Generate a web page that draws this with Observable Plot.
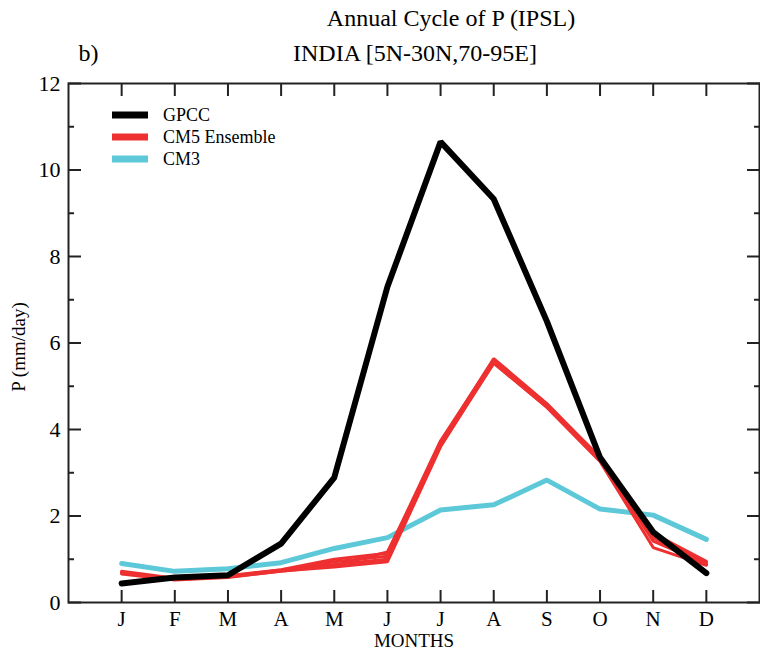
<!DOCTYPE html>
<html>
<head>
<meta charset="utf-8">
<script src="https://cdn.jsdelivr.net/npm/d3@7"></script>
<script src="https://cdn.jsdelivr.net/npm/@observablehq/plot@0.6"></script>
<style>
  html, body { margin: 0; padding: 0; background: #fff; }
</style>
</head>
<body>
<div id="chart"></div>
<script>
// ---- data ----
const monthLabels = ["J","F","M","A","M","J","J","A","S","O","N","D"];
const monthIndex = [1,2,3,4,5,6,7,8,9,10,11,12];
const yMajorTicks = [0,2,4,6,8,10,12];
const yMinorTicks = [1,3,5,7,9,11];

const gpcc = [0.44,0.58,0.63,1.36,2.89,7.30,10.65,9.33,6.50,3.35,1.63,0.68];
const cm3  = [0.90,0.72,0.78,0.92,1.25,1.50,2.14,2.26,2.83,2.16,2.02,1.46];

// CM5 ensemble members
const cm5_m1 = [0.66,0.52,0.58,0.73,0.82,0.94,3.60,5.55,4.51,3.26,1.27,0.86];
const cm5_m2 = [0.68,0.54,0.60,0.74,0.88,1.00,3.66,5.60,4.56,3.30,1.42,0.89];
const cm5_m3 = [0.70,0.55,0.61,0.75,0.94,1.07,3.71,5.64,4.60,3.34,1.55,0.93];
const cm5_m4 = [0.72,0.56,0.62,0.76,1.00,1.14,3.74,5.61,4.58,3.36,1.60,0.95];
const cm5_m5 = [0.69,0.53,0.59,0.72,0.85,1.17,3.63,5.53,4.52,3.28,1.50,0.88];
const cm5Members = [cm5_m1, cm5_m2, cm5_m3, cm5_m4, cm5_m5];

const seriesNames = ["GPCC","CM5 Ensemble","CM3"];
const seriesColors = ["#000000","#ee3030","#5cc8d8"];

// ---- tables ----
const toRows = (vals, series, member) => vals.map((v, i) => ({month: monthIndex[i], value: v, series, member}));
const gpccRows = toRows(gpcc, "GPCC", 0);
const cm3Rows = toRows(cm3, "CM3", 0);
const cm5Rows = cm5Members.flatMap((m, k) => toRows(m, "CM5 Ensemble", k));

const FONT = "Liberation Serif, Times New Roman, serif";

const chart = Plot.plot({
  width: 760,
  height: 653,
  marginLeft: 68,
  marginRight: 1,
  marginTop: 83,
  marginBottom: 51,
  style: {fontFamily: FONT, background: "#fff", color: "#000"},
  x: {domain: [0, 13]},
  y: {domain: [0, 12]},
  marks: [
    // lines
    Plot.line(cm3Rows, {x: "month", y: "value", stroke: seriesColors[2], strokeWidth: 5, strokeLinejoin: "miter"}),
    Plot.line(cm5Rows, {x: "month", y: "value", z: "member", stroke: seriesColors[1], strokeWidth: 3, strokeLinejoin: "miter"}),
    Plot.line(gpccRows, {x: "month", y: "value", stroke: seriesColors[0], strokeWidth: 6, strokeLinejoin: "miter"}),
    // frame
    Plot.frame({stroke: "#222", strokeWidth: 2}),
    // y axes (inward ticks)
    Plot.axisY(yMajorTicks, {anchor: "left", tickSize: -13, tickPadding: 21, fontSize: 22, label: null, stroke: "#222", strokeWidth: 2}),
    Plot.axisY(yMinorTicks, {anchor: "left", tickSize: -6, tickFormat: () => "", label: null, stroke: "#222", strokeWidth: 2}),
    Plot.axisY(yMajorTicks, {anchor: "right", tickSize: -13, tickFormat: () => "", label: null, stroke: "#222", strokeWidth: 2}),
    Plot.axisY(yMinorTicks, {anchor: "right", tickSize: -6, tickFormat: () => "", label: null, stroke: "#222", strokeWidth: 2}),
    // x axes
    Plot.axisX(monthIndex, {anchor: "bottom", tickSize: -12, tickPadding: 21, fontSize: 21, tickFormat: d => monthLabels[d - 1], label: null, stroke: "#222", strokeWidth: 2}),
    Plot.axisX(monthIndex, {anchor: "top", tickSize: -12, tickFormat: () => "", label: null, stroke: "#222", strokeWidth: 2}),
    // axis titles
    Plot.text(["MONTHS"], {frameAnchor: "bottom", lineAnchor: "middle", dy: 38, fontSize: 19, fill: "#000"}),
    Plot.text(["P (mm/day)"], {frameAnchor: "left", textAnchor: "middle", lineAnchor: "middle", dx: -50, dy: 4, rotate: -90, fontSize: 19, fill: "#000"}),
    // titles
    Plot.text(["Annual Cycle of P (IPSL)"], {frameAnchor: "top", lineAnchor: "middle", dx: 37, dy: -65, fontSize: 24, fill: "#000"}),
    Plot.text(["INDIA [5N-30N,70-95E]"], {frameAnchor: "top", lineAnchor: "middle", dx: 1, dy: -30, fontSize: 24, fill: "#000"}),
    Plot.text(["b)"], {frameAnchor: "top-left", textAnchor: "start", lineAnchor: "middle", dx: 10, dy: -30, fontSize: 24, fill: "#000"})
  ]
});

document.getElementById("chart").appendChild(chart);

// ---- legend ----
const svg = d3.select(chart);
const legend = svg.append("g").attr("font-family", FONT).attr("font-size", 18).attr("text-anchor", "start");
const legendX0 = 112, legendX1 = 148, legendTextX = 163, legendY0 = 115, legendDY = 22;
seriesNames.forEach((name, i) => {
  const y = legendY0 + i * legendDY;
  legend.append("line")
    .attr("x1", legendX0).attr("x2", legendX1)
    .attr("y1", y).attr("y2", y)
    .attr("stroke", seriesColors[i]).attr("stroke-width", 7);
  legend.append("text")
    .attr("x", legendTextX).attr("y", y).attr("dy", "0.35em")
    .attr("text-anchor", "start")
    .attr("fill", "#000").text(name);
});
</script>
</body>
</html>
